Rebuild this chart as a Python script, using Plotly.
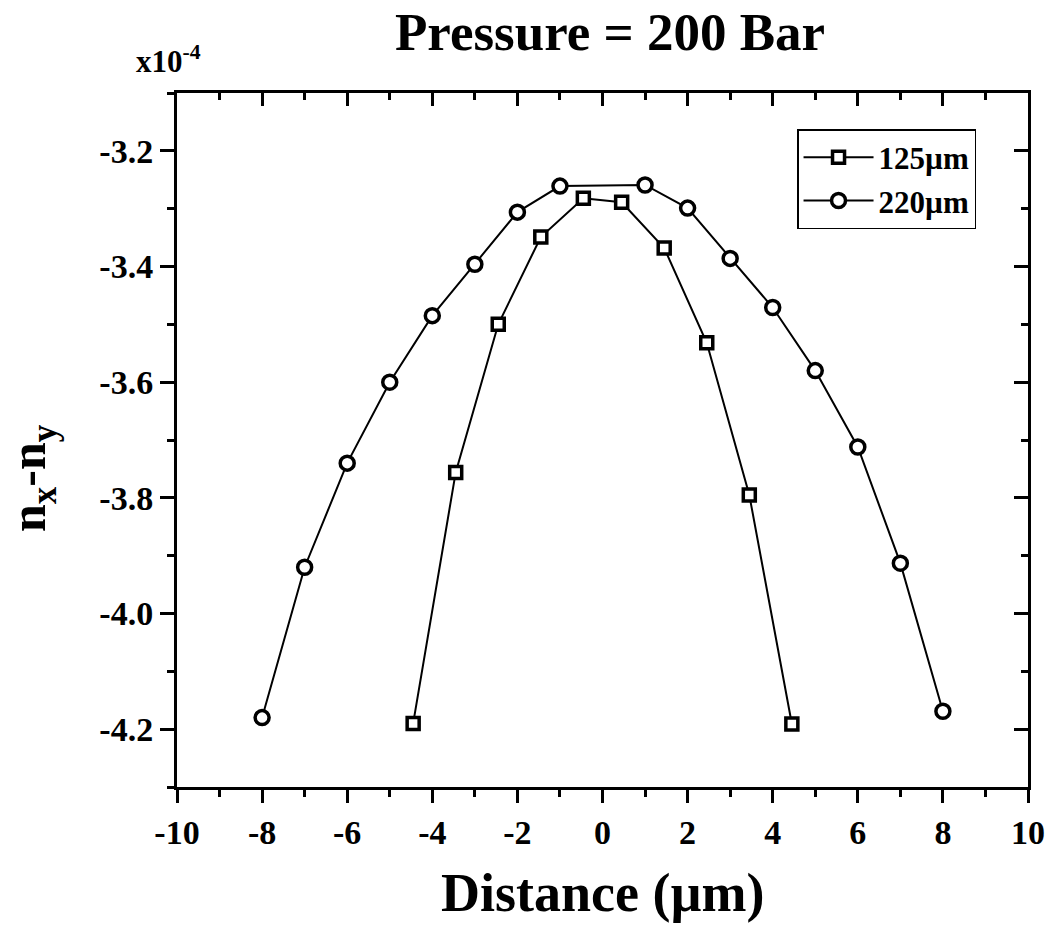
import plotly.graph_objects as go

# Birefringence profile across the fibre at 200 bar (values in units of 1e-4)
dist_220 = [-8, -7, -6, -5, -4, -3, -2, -1, 1, 2, 3, 4, 5, 6, 7, 8]
biref_220 = [-4.18, -3.92, -3.74, -3.60, -3.485, -3.396, -3.306, -3.261,
             -3.259, -3.299, -3.386, -3.471, -3.580, -3.712, -3.913, -4.169]

dist_125 = [-4.45, -3.45, -2.45, -1.45, -0.45, 0.45, 1.45, 2.45, 3.45, 4.45]
biref_125 = [-4.19, -3.756, -3.50, -3.349, -3.282, -3.289, -3.368, -3.532,
             -3.795, -4.191]

x_ticks = [-10, -8, -6, -4, -2, 0, 2, 4, 6, 8, 10]
y_ticks = [-3.2, -3.4, -3.6, -3.8, -4.0, -4.2]

FONT = "Liberation Serif"
X_RANGE = [-10, 10]
Y_RANGE = [-4.3, -3.1]
MU = "\u00b5"

fig = go.Figure()

fig.add_trace(go.Scatter(
    x=dist_125, y=biref_125, name="125" + MU + "m", mode="lines+markers",
    line=dict(color="black", width=2),
    marker=dict(symbol="square", size=12, color="white",
                line=dict(color="black", width=3.5)),
))
fig.add_trace(go.Scatter(
    x=dist_220, y=biref_220, name="220" + MU + "m", mode="lines+markers",
    line=dict(color="black", width=2),
    marker=dict(symbol="circle", size=14, color="white",
                line=dict(color="black", width=3.5)),
))
# empty trace so the mirrored top/right axes are rendered
fig.add_trace(go.Scatter(x=[], y=[], xaxis="x2", yaxis="y2",
                         showlegend=False, hoverinfo="skip"))

tick_font = dict(family=FONT, size=34, color="black", weight="bold")

common = dict(showgrid=False, zeroline=False, automargin=False,
              showline=True, linecolor="black", linewidth=3,
              tickwidth=3, tickcolor="black")

fig.update_layout(
    width=1048, height=925,
    margin=dict(l=177, r=20, t=93, b=138),
    paper_bgcolor="white", plot_bgcolor="white",
    showlegend=True,
    legend=dict(
        x=0.7286, y=0.948, xanchor="left", yanchor="top",
        bordercolor="black", borderwidth=1.5, bgcolor="white",
        font=dict(family=FONT, size=31, color="black", weight="bold"),
        itemwidth=70, tracegroupgap=0,
    ),
    xaxis=dict(
        range=X_RANGE, tickvals=x_ticks, ticktext=[str(v) for v in x_ticks],
        ticks="outside", ticklen=13,
        minor=dict(dtick=1, tick0=0, ticks="outside", ticklen=7,
                   tickwidth=3, tickcolor="black"),
        tickfont=tick_font, **common,
    ),
    yaxis=dict(
        range=Y_RANGE, tickvals=y_ticks,
        ticktext=["%.1f" % v for v in y_ticks],
        ticks="outside", ticklen=14,
        minor=dict(dtick=0.1, tick0=-3.2, ticks="outside", ticklen=7,
                   tickwidth=3, tickcolor="black"),
        tickfont=tick_font, **common,
    ),
    xaxis2=dict(
        range=X_RANGE, overlaying="x", side="top", tickvals=x_ticks,
        showticklabels=False, ticks="inside", ticklen=13,
        minor=dict(dtick=1, tick0=0, ticks="inside", ticklen=7,
                   tickwidth=3, tickcolor="black"),
        **common,
    ),
    yaxis2=dict(
        range=Y_RANGE, overlaying="y", side="right", tickvals=y_ticks,
        showticklabels=False, ticks="inside", ticklen=14,
        minor=dict(dtick=0.1, tick0=-3.2, ticks="inside", ticklen=7,
                   tickwidth=3, tickcolor="black"),
        **common,
    ),
    annotations=[
        dict(text="Pressure = 200 Bar", xref="paper", yref="paper",
             x=0.509, y=(787 - 32) / 694, xanchor="center", yanchor="middle",
             showarrow=False,
             font=dict(family=FONT, size=53, color="black", weight="bold")),
        dict(text="Distance (" + MU + "m)", xref="paper", yref="paper",
             x=0.5, y=(787 - 893) / 694, xanchor="center", yanchor="middle",
             showarrow=False,
             font=dict(family=FONT, size=54, color="black", weight="bold")),
        dict(text="n<sub>x</sub>-n<sub>y</sub>", xref="paper", yref="paper",
             x=(32 - 177) / 851, y=(787 - 478) / 694, xanchor="center",
             yanchor="middle", textangle=-90, showarrow=False,
             font=dict(family=FONT, size=50, color="black", weight="bold")),
        dict(text="x10<sup>-4</sup>", xref="paper", yref="paper",
             x=(168 - 177) / 851, y=(787 - 60) / 694, xanchor="center",
             yanchor="middle", showarrow=False,
             font=dict(family=FONT, size=31, color="black", weight="bold")),
    ],
)

fig.write_html("out.html")
